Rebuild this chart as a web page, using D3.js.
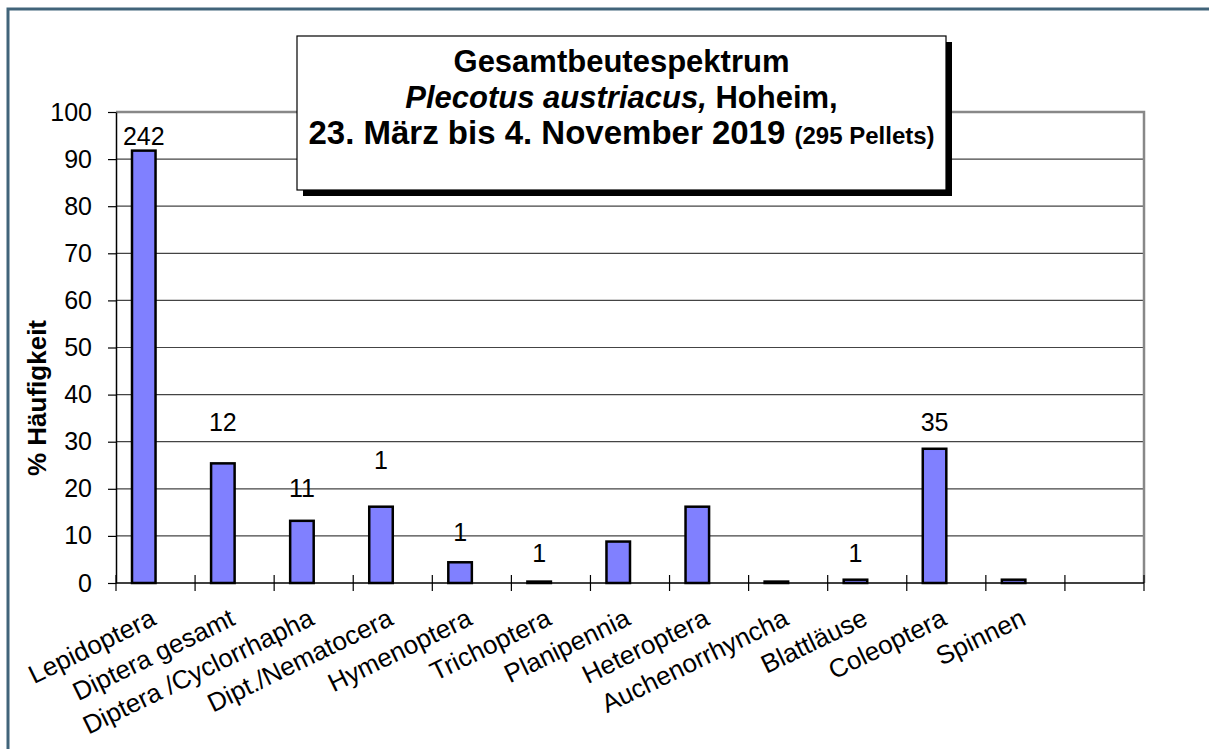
<!DOCTYPE html>
<html>
<head>
<meta charset="utf-8">
<script src="https://cdn.jsdelivr.net/npm/d3@7"></script>
<style>
  body { margin: 0; background: #fff; }
  svg { display: block; font-family: Arial, "Liberation Sans", sans-serif; }
</style>
</head>
<body>
<svg id="chart" width="1209" height="749"></svg>
<script>
// categories (last slot is empty in the original)
var categories = ["Lepidoptera", "Diptera gesamt", "Diptera /Cyclorrhapha", "Dipt./Nematocera",
    "Hymenoptera", "Trichoptera", "Planipennia", "Heteroptera", "Auchenorrhyncha",
    "Blattläuse", "Coleoptera", "Spinnen", ""];
// % Häufigkeit
var percentValues = [91.8, 25.4, 13.2, 16.2, 4.4, 0.3, 8.8, 16.2, 0.3, 0.7, 28.5, 0.7, null];
// count labels and the level (in % units) where they sit
var countLabels = ["242", "12", "11", "1", "1", "1", null, null, null, "1", "35", null, null];
var countLevels = [93.0, 32.3, 18.3, 24.1, 9.0, 4.5, null, null, null, 4.5, 32.3, null, null];
var yTicks = [0, 10, 20, 30, 40, 50, 60, 70, 80, 90, 100];

(function() {
    var svg = d3.select("#chart");
    var plotLeft = 116, plotRight = 1144, plotTop = 112, plotBottom = 583;

    // outer frame
    svg.append("rect")
        .attr("x", 8).attr("y", 9)
        .attr("width", 1220).attr("height", 760)
        .attr("fill", "#fff")
        .attr("stroke", "#41647a")
        .attr("stroke-width", 3);

    var x = d3.scaleBand().domain(d3.range(categories.length)).range([plotLeft, plotRight]).padding(0);
    var sub = d3.scaleBand().domain(["pct", "cnt"]).range([0, x.bandwidth()]).paddingInner(0).paddingOuter(0.68);
    var y = d3.scaleLinear().domain([0, 100]).range([plotBottom, plotTop]);

    // gridlines
    svg.append("g").selectAll("line")
        .data(yTicks.filter(function(d) { return d > 0 && d < 100; }))
        .join("line")
        .attr("x1", plotLeft).attr("x2", plotRight)
        .attr("y1", function(d) { return y(d); }).attr("y2", function(d) { return y(d); })
        .attr("stroke", "#444").attr("stroke-width", 1.2);

    // plot area top / right border
    svg.append("path")
        .attr("d", "M" + plotLeft + "," + y(100) + "H" + plotRight + "V" + plotBottom)
        .attr("fill", "none").attr("stroke", "#888").attr("stroke-width", 2.5);

    // bars
    svg.append("g").selectAll("rect")
        .data(percentValues.map(function(v, i) { return {i: i, v: v}; }).filter(function(d) { return d.v != null; }))
        .join("rect")
        .attr("x", function(d) { return x(d.i) + sub("pct"); })
        .attr("width", sub.bandwidth())
        .attr("y", function(d) { return y(d.v); })
        .attr("height", function(d) { return y(0) - y(d.v); })
        .attr("fill", "#8080ff")
        .attr("stroke", "#000")
        .attr("stroke-width", 2.5);

    // y axis
    var yAxis = svg.append("g")
        .attr("transform", "translate(" + plotLeft + ",0)")
        .call(d3.axisLeft(y).tickValues(yTicks).tickSize(8).tickSizeOuter(0).tickPadding(16));
    yAxis.select(".domain").attr("stroke", "#000").attr("stroke-width", 1.5);
    yAxis.selectAll(".tick line").attr("stroke", "#000").attr("stroke-width", 1.2);
    yAxis.selectAll(".tick text").attr("font-size", 25).attr("fill", "#000")
        .attr("font-family", "Arial, 'Liberation Sans', sans-serif");

    // x axis: ticks at the slot borders, crossing the axis
    var xAxis = svg.append("g").attr("transform", "translate(0," + plotBottom + ")");
    xAxis.append("line").attr("x1", plotLeft).attr("x2", plotRight)
        .attr("stroke", "#000").attr("stroke-width", 1.5);
    xAxis.selectAll("line.tk")
        .data(d3.range(categories.length + 1))
        .join("line")
        .attr("class", "tk")
        .attr("x1", function(i) { return plotLeft + i * x.step(); })
        .attr("x2", function(i) { return plotLeft + i * x.step(); })
        .attr("y1", -8).attr("y2", 8)
        .attr("stroke", "#000").attr("stroke-width", 1.2);

    // category labels
    svg.append("g").selectAll("text")
        .data(categories)
        .join("text")
        .attr("transform", function(d, i) {
            return "translate(" + (x(i) + x.bandwidth() / 2 + 2) + "," + (plotBottom + 41) + ") rotate(-26)";
        })
        .attr("text-anchor", "end")
        .attr("font-size", 26)
        .text(function(d) { return d; });

    // count labels
    svg.append("g").selectAll("text")
        .data(countLabels.map(function(c, i) { return {i: i, c: c, lv: countLevels[i]}; }).filter(function(d) { return d.c != null; }))
        .join("text")
        .attr("x", function(d) { return x(d.i) + sub("pct") + sub.bandwidth() / 2; })
        .attr("y", function(d) { return y(d.lv); })
        .attr("text-anchor", "middle")
        .attr("font-size", 25)
        .text(function(d) { return d.c; });

    // y axis title
    svg.append("text")
        .attr("transform", "translate(46,398) rotate(-90)")
        .attr("text-anchor", "middle")
        .attr("font-size", 26)
        .attr("font-weight", "bold")
        .text("% Häufigkeit");

    // title box with shadow
    var tb = {x: 297, y: 36, w: 649, h: 154};
    svg.append("rect").attr("x", tb.x + 6).attr("y", tb.y + 6).attr("width", tb.w).attr("height", tb.h).attr("fill", "#000");
    svg.append("rect").attr("x", tb.x).attr("y", tb.y).attr("width", tb.w).attr("height", tb.h)
        .attr("fill", "#fff").attr("stroke", "#000").attr("stroke-width", 1.2);

    var cx = tb.x + tb.w / 2;
    svg.append("text").attr("x", cx).attr("y", 72).attr("text-anchor", "middle")
        .attr("font-size", 31).attr("font-weight", "bold")
        .text("Gesamtbeutespektrum");
    var t2 = svg.append("text").attr("x", cx).attr("y", 108).attr("text-anchor", "middle")
        .attr("font-size", 31).attr("font-weight", "bold");
    t2.append("tspan").attr("font-style", "italic").text("Plecotus austriacus,");
    t2.append("tspan").text(" Hoheim,");
    var t3 = svg.append("text").attr("x", cx).attr("y", 144).attr("text-anchor", "middle")
        .attr("font-size", 33).attr("font-weight", "bold");
    t3.append("tspan").text("23. März bis 4. November 2019 ");
    t3.append("tspan").attr("font-size", 24).text("(295 Pellets)");
})();
</script>
</body>
</html>
